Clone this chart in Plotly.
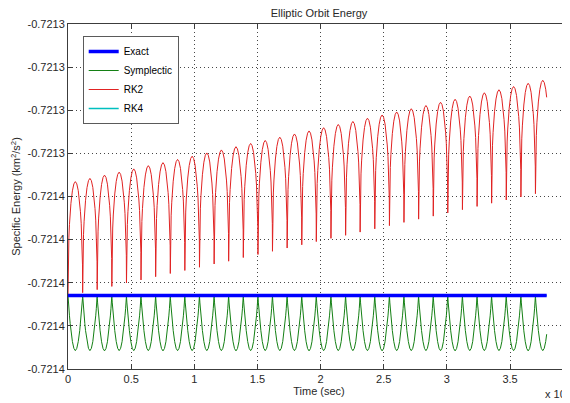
import numpy as np
import plotly.graph_objects as go

# ---------------- data ----------------
# Energy values are stored as offsets (in 1e-6 km^2/s^2) above E_BASE
E_BASE = -0.72136
SCALE = 1e-6

# times (x 10^4 s) of the periapsis passages (cusps), last one just past the end
cusp_t = [0.000, 0.116, 0.231, 0.347, 0.463, 0.578, 0.694, 0.810, 0.925, 1.041,
          1.157, 1.272, 1.388, 1.504, 1.619, 1.735, 1.851, 1.966, 2.082, 2.198,
          2.313, 2.429, 2.545, 2.660, 2.776, 2.892, 3.007, 3.123, 3.239, 3.354,
          3.470, 3.586, 3.701, 3.817]
t_end = 3.79

exact_off = 3.41

# RK2: value at each cusp (low spikes) and at the top of each arch
rk2_cusp_off = [3.41, 3.54, 3.68, 3.83, 3.99, 4.13, 4.28, 4.43, 4.57, 4.72,
                4.87, 5.00, 5.17, 5.31, 5.46, 5.61, 5.76, 5.91, 6.06, 6.20,
                6.35, 6.50, 6.65, 6.80, 6.95, 7.09, 7.24, 7.39, 7.54, 7.69,
                7.84, 7.98, 8.13, 8.28]
rk2_top_off = [8.69, 8.84, 8.99, 9.13, 9.28, 9.43, 9.57, 9.72, 9.87, 10.02,
               10.16, 10.31, 10.46, 10.60, 10.75, 10.90, 11.04, 11.19, 11.34, 11.48,
               11.63, 11.78, 11.92, 12.07, 12.22, 12.37, 12.51, 12.66, 12.81, 12.95,
               13.10, 13.25, 13.39]

# Symplectic: cusps touch the exact value, troughs per orbit
symp_trough_off = [0.85, 0.85, 0.84, 0.85, 0.85, 0.85, 0.84, 0.85, 0.85, 0.85,
                   0.85, 0.84, 0.85, 0.85, 0.85, 0.85, 0.84, 0.85, 0.85, 0.85,
                   0.85, 0.84, 0.85, 0.85, 0.85, 0.85, 0.84, 0.85, 0.85, 0.85,
                   0.85, 0.84, 0.85]

# RK4 stays on the exact value
rk4_t = [0.0, 3.79]
rk4_off = [3.41, 3.41]

# shape of one orbit (phase from cusp to cusp)
profile_phase = [0.0, 0.01, 0.03, 0.06, 0.10, 0.15, 0.20, 0.30, 0.40, 0.50,
                 0.60, 0.70, 0.80, 0.85, 0.90, 0.94, 0.97, 0.99, 1.0]
rk2_shape = [0.0, 0.25, 0.389, 0.511, 0.625, 0.729, 0.809, 0.919, 0.98, 1.0,
             0.98, 0.919, 0.809, 0.729, 0.625, 0.511, 0.389, 0.25, 0.0]
symp_shape = [0.0, 0.053, 0.134, 0.24, 0.369, 0.511, 0.637, 0.835, 0.958, 1.0,
              0.958, 0.835, 0.637, 0.511, 0.369, 0.24, 0.134, 0.053, 0.0]

y_tick_off = [0, 2, 4, 6, 8, 10, 12, 14, 16]
y_tick_text = ["-0.7214", "-0.7214", "-0.7214", "-0.7214", "-0.7214",
               "-0.7213", "-0.7213", "-0.7213", "-0.7213"]
x_tick_vals = [0, 0.5, 1, 1.5, 2, 2.5, 3, 3.5, 4]
x_tick_text = ["0", "0.5", "1", "1.5", "2", "2.5", "3", "3.5", "4"]

# ---------------- build traces ----------------
def E(off):
    return E_BASE + np.asarray(off, dtype=float) * SCALE

t_pts, rk2_pts, symp_pts = [], [], []
n_orbits = len(rk2_top_off)
for k in range(n_orbits):
    t0, t1 = cusp_t[k], cusp_t[k + 1]
    for p in profile_phase[:-1]:
        t = t0 + p * (t1 - t0)
        if t > t_end:
            break
        rs = np.interp(p, profile_phase, rk2_shape)
        gs = np.interp(p, profile_phase, symp_shape)
        low = rk2_cusp_off[k] if p < 0.5 else rk2_cusp_off[k + 1]
        t_pts.append(t)
        rk2_pts.append(low + (rk2_top_off[k] - low) * rs)
        symp_pts.append(exact_off - (exact_off - symp_trough_off[k]) * gs)
    if t1 > t_end >= t0:
        p = (t_end - t0) / (t1 - t0)
        rs = np.interp(p, profile_phase, rk2_shape)
        gs = np.interp(p, profile_phase, symp_shape)
        low = rk2_cusp_off[k] if p < 0.5 else rk2_cusp_off[k + 1]
        t_pts.append(t_end)
        rk2_pts.append(low + (rk2_top_off[k] - low) * rs)
        symp_pts.append(exact_off - (exact_off - symp_trough_off[k]) * gs)
        break

FONT = "Liberation Sans, Arial, sans-serif"
TXT = "rgb(40,40,40)"

# the page body has an 8px margin: the figure is sized so that it fills the window
W, H = 562, 395

fig = go.Figure()
fig.add_trace(go.Scatter(x=rk4_t, y=E(rk4_off), mode="lines", name="RK4",
                         line=dict(color="rgb(0,191,191)", width=1.5), legendrank=4))
fig.add_trace(go.Scatter(x=t_pts, y=E(symp_pts), mode="lines", name="Symplectic",
                         line=dict(color="rgb(20,128,20)", width=1), legendrank=2))
fig.add_trace(go.Scatter(x=t_pts, y=E(rk2_pts), mode="lines", name="RK2",
                         line=dict(color="rgb(225,35,35)", width=1), legendrank=3))
fig.add_trace(go.Scatter(x=[0, t_end], y=E([exact_off, exact_off]), mode="lines",
                         name="Exact", line=dict(color="rgb(0,0,255)", width=3.5),
                         legendrank=1))

axis_common = dict(
    showline=True, linecolor="rgb(60,60,60)", linewidth=1, mirror="ticks",
    ticks="inside", ticklen=5, tickcolor="rgb(60,60,60)",
    showgrid=True, gridcolor="rgb(70,70,70)", griddash="1px,3px", gridwidth=1,
    zeroline=False, automargin=False,
    tickfont=dict(family=FONT, size=11, color=TXT),
)

fig.update_layout(
    width=W, height=H,
    margin=dict(l=60, r=0, t=16, b=34),
    paper_bgcolor="white", plot_bgcolor="white",
    font=dict(family=FONT, size=11, color=TXT),
    title=dict(text="Elliptic Orbit Energy", x=(319 - 8) / W, xanchor="center",
               y=1 - (12.7 - 8) / H, yanchor="middle", yref="container",
               font=dict(family=FONT, size=11, color=TXT)),
    xaxis=dict(range=[0, 502 / 126.3], tickvals=x_tick_vals, ticktext=x_tick_text,
               title=dict(text="Time (sec)", standoff=2,
                          font=dict(family=FONT, size=11, color=TXT)),
               **axis_common),
    yaxis=dict(range=[E_BASE, E_BASE + 16 * SCALE], tickvals=list(E(y_tick_off)),
               ticktext=y_tick_text,
               title=dict(text="Specific Energy (km<sup>2</sup>/s<sup>2</sup>)", standoff=4,
                          font=dict(family=FONT, size=11, color=TXT)),
               **axis_common),
    legend=dict(x=(82.7 - 68) / 502, y=(369 - 36) / 345, xanchor="left", yanchor="top",
                bgcolor="white", bordercolor="rgb(90,90,90)", borderwidth=1,
                font=dict(family=FONT, size=10, color="black"),
                tracegroupgap=0, itemwidth=30),
    showlegend=True,
    annotations=[dict(text="x 10<sup>4</sup>", xref="paper", yref="paper",
                      x=(544 - 68) / 502, y=(369 - 393) / 345,
                      xanchor="left", yanchor="middle", showarrow=False, borderpad=0,
                      font=dict(family=FONT, size=11, color=TXT))],
)

fig.write_html("out.html", config={"displayModeBar": False})
